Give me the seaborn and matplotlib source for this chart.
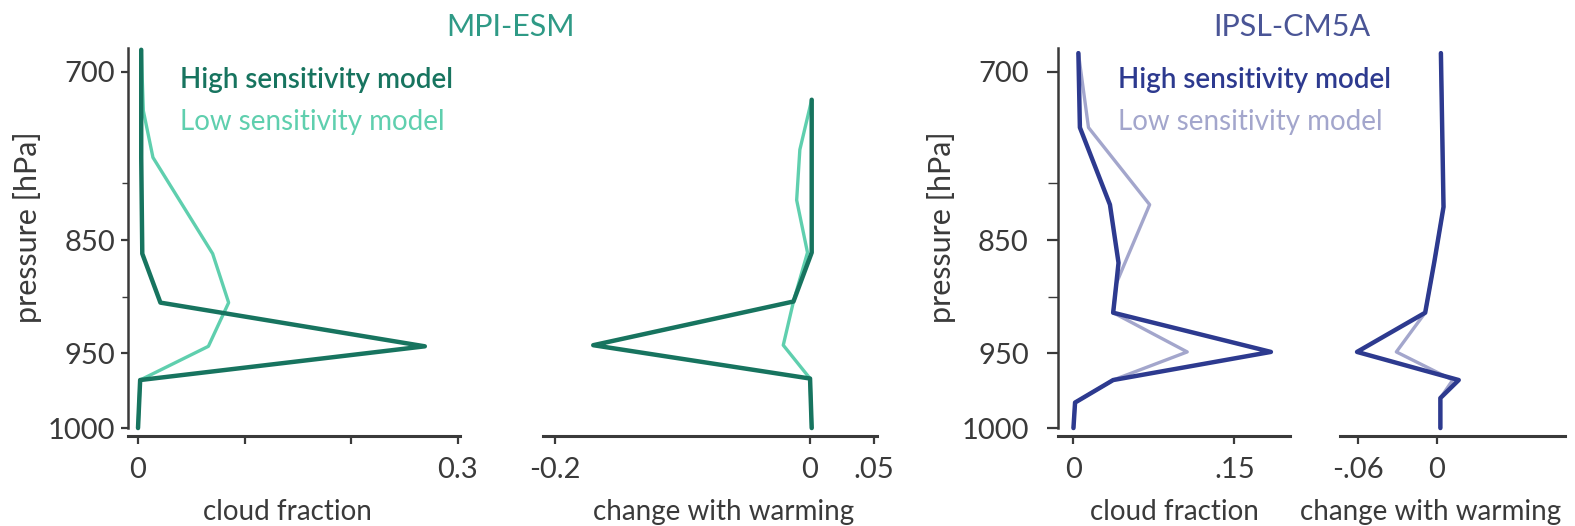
import numpy as np
import matplotlib
matplotlib.use("Agg")
import matplotlib.pyplot as plt
import seaborn as sns

# ---- data ----
# MPI-ESM, cloud fraction
mpi_cloud_p = [680, 735, 777, 862, 905, 944, 968, 1000]
mpi_cloud_high = [0.003, 0.003, 0.003, 0.004, 0.021, 0.269, 0.002, 0.0]
mpi_cloud_low = [0.003, 0.005, 0.014, 0.070, 0.085, 0.066, 0.002, 0.0]
# MPI-ESM, change with warming
mpi_change_p = [725, 770, 815, 861, 904, 943, 967, 1000]
mpi_change_high = [0.0013, 0.0013, 0.0013, 0.0013, -0.013, -0.170, 0.0, 0.0013]
mpi_change_low = [0.0013, -0.008, -0.0105, -0.002, -0.013, -0.021, 0.0, 0.0013]
# IPSL-CM5A, cloud fraction
ipsl_cloud_p = [683, 750, 819, 870, 888, 914, 949, 968, 983, 1000]
ipsl_cloud_high = [0.0046, 0.006, 0.034, 0.042, 0.040, 0.037, 0.184, 0.037, 0.0015, 0.0]
ipsl_cloud_low = [0.0046, 0.014, 0.071, 0.048, 0.040, 0.037, 0.106, 0.037, 0.0015, 0.0]
# IPSL-CM5A, change with warming
ipsl_change_p = [683, 821, 869, 914, 949, 968, 980, 1000]
ipsl_change_high = [0.003, 0.005, -0.002, -0.009, -0.061, 0.0166, 0.0026, 0.0026]
ipsl_change_low = [0.003, 0.005, -0.002, -0.009, -0.031, 0.012, 0.0026, 0.0026]

y_major = [700, 850, 950, 1000]
y_minor = [800, 900]

# colours
mpi_dark, mpi_light, mpi_title = "#17745f", "#5fcfae", "#2f9a86"
ipsl_dark, ipsl_light, ipsl_title = "#2d3a8f", "#a3a6cc", "#4a5596"
ink = "#3a3a3a"

sns.set_theme(style="white")
plt.rcParams["font.family"] = ["Lato", "DejaVu Sans"]

W, H = 1575, 526
fig = plt.figure(figsize=(W / 100, H / 100), dpi=100)

# the pressure axis in the original is not quite linear (950-1000 is stretched)
scale_p = [600, 700, 800, 850, 900, 950, 1000, 1100]
scale_pos = [-39, 72, 183, 240, 297, 353, 428, 578]


def fwd(p):
    return np.interp(p, scale_p, scale_pos)


def inv(v):
    return np.interp(v, scale_pos, scale_p)


def add_panel(x0, x1, xlim, yspine, ytick_len=5, ytick_pad=7):
    ax = fig.add_axes([x0 / W, 1 - 436 / H, (x1 - x0) / W, (436 - 46) / H])
    ax.set_yscale("function", functions=(fwd, inv))
    ax.set_ylim(1005.3, 676.6)
    ax.set_xlim(*xlim)
    for s in ["top", "right"]:
        ax.spines[s].set_visible(False)
    ax.spines["bottom"].set_color(ink)
    ax.spines["bottom"].set_linewidth(2.2)
    if yspine:
        ax.spines["left"].set_color(ink)
        ax.spines["left"].set_linewidth(1.8)
        ax.spines["left"].set_bounds(1000, 678)
        ax.set_yticks(y_major)
        ax.set_yticklabels([str(v) for v in y_major])
        ax.set_yticks(y_minor, minor=True)
        ax.tick_params(axis="y", which="major", direction="out", length=ytick_len,
                       width=1.6, color=ink, labelsize=21, labelcolor=ink, left=True,
                       pad=ytick_pad)
        ax.tick_params(axis="y", which="minor", direction="out", length=ytick_len - 1,
                       width=1.0, color=ink, left=True)
        ax.set_ylabel("pressure [hPa]", fontsize=22, color=ink)
    else:
        ax.spines["left"].set_visible(False)
        ax.set_yticks([])
        ax.set_yticks([], minor=True)
    ax.tick_params(axis="x", direction="out", length=6, width=1.6, color=ink,
                   labelsize=21, labelcolor=ink, bottom=True, pad=9)
    ax.patch.set_alpha(0)
    return ax


def draw(ax, p, low, high, c_low, c_high):
    sns.lineplot(x=low, y=p, orient="y", sort=False, estimator=None,
                 color=c_low, lw=2.4, ax=ax)
    sns.lineplot(x=high, y=p, orient="y", sort=False, estimator=None,
                 color=c_high, lw=3.2, ax=ax)


# MPI cloud fraction
ax1 = add_panel(128, 460, (-0.0094, 0.302), True, ytick_len=5, ytick_pad=4)
draw(ax1, mpi_cloud_p, mpi_cloud_low, mpi_cloud_high, mpi_light, mpi_dark)
ax1.set_xticks([0, 0.1, 0.2, 0.3])
ax1.set_xticklabels(["0", "", "", "0.3"])
ax1.yaxis.set_label_coords(-0.26, 0.536)

# MPI change with warming
ax2 = add_panel(543, 877, (-0.2094, 0.0525), False)
draw(ax2, mpi_change_p, mpi_change_low, mpi_change_high, mpi_light, mpi_dark)
ax2.set_xticks([-0.2, 0, 0.05])
ax2.set_xticklabels(["-0.2", "0", ".05"])

# IPSL cloud fraction
ax3 = add_panel(1058, 1290, (-0.0144, 0.2018), True, ytick_len=8, ytick_pad=13)
draw(ax3, ipsl_cloud_p, ipsl_cloud_low, ipsl_cloud_high, ipsl_light, ipsl_dark)
ax3.set_xticks([0, 0.15])
ax3.set_xticklabels(["0", ".15"])
ax3.yaxis.set_label_coords(-0.44, 0.536)

# IPSL change with warming
ax4 = add_panel(1340, 1565, (-0.074, 0.0977), False)
draw(ax4, ipsl_change_p, ipsl_change_low, ipsl_change_high, ipsl_light, ipsl_dark)
ax4.set_xticks([-0.06, 0])
ax4.set_xticklabels(["-.06", "0"])

for ax, label, cx in [(ax1, "cloud fraction", 0.48), (ax2, "change with warming", 0.542),
                      (ax3, "cloud fraction", 0.5), (ax4, "change with warming", 0.404)]:
    ax.set_xlabel(label, fontsize=20, color=ink)
    ax.xaxis.set_label_coords(cx, -0.195)
    ax.xaxis.label.set_va("center")

# legends as coloured text
for x, c_high, c_low in [(180, mpi_dark, mpi_light), (1118, ipsl_dark, ipsl_light)]:
    fig.text(x / W, 1 - 80 / H, "High sensitivity model", color=c_high,
             fontsize=20, fontweight="semibold", va="center", ha="left")
    fig.text(x / W, 1 - 122 / H, "Low sensitivity model", color=c_low,
             fontsize=20, va="center", ha="left")

fig.text(511 / W, 1 - 27 / H, "MPI-ESM", color=mpi_title, fontsize=22,
         ha="center", va="center")
fig.text(1292 / W, 1 - 27 / H, "IPSL-CM5A", color=ipsl_title, fontsize=22,
         ha="center", va="center")

fig.savefig("out.png", dpi=100, facecolor="white")
